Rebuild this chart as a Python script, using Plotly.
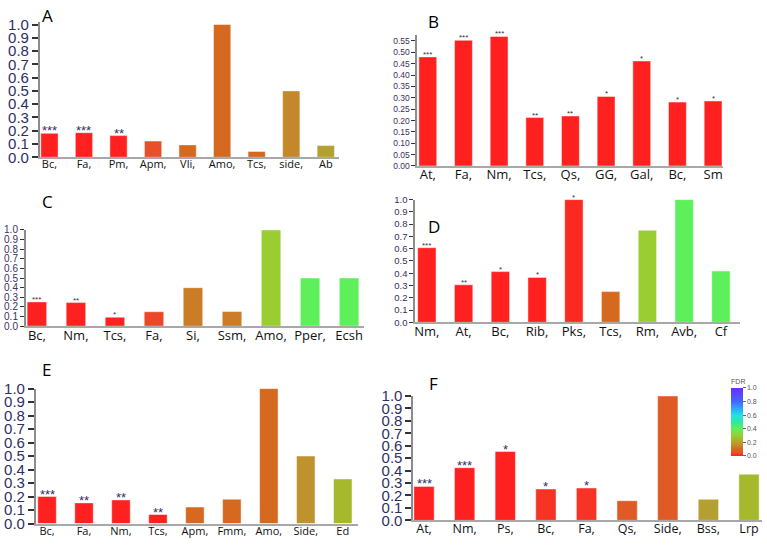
import plotly.graph_objects as go

W, H = 767, 549

# ---------------- data ----------------
a_labels = ["Bc,", "Fa,", "Pm,", "Apm,", "Vli,", "Amo,", "Tcs,", "side,", "Ab"]
a_values = [0.18, 0.185, 0.163, 0.122, 0.093, 1.0, 0.044, 0.5, 0.088]
a_fdr = [0, 0, 0, 0.05, 0.1, 0.1, 0.1, 0.15, 0.2]
a_stars = ["***", "***", "**", "", "", "", "", "", ""]

b_labels = ["At,", "Fa,", "Nm,", "Tcs,", "Qs,", "GG,", "Gal,", "Bc,", "Sm"]
b_values = [0.48, 0.553, 0.57, 0.213, 0.22, 0.306, 0.462, 0.281, 0.286]
b_fdr = [0, 0, 0, 0, 0, 0, 0, 0, 0]
b_stars = ["***", "***", "***", "**", "**", "*", "*", "*", "*"]

c_labels = ["Bc,", "Nm,", "Tcs,", "Fa,", "Si,", "Ssm,", "Amo,", "Pper,", "Ecsh"]
c_values = [0.252, 0.245, 0.093, 0.15, 0.4, 0.152, 1.0, 0.5, 0.5]
c_fdr = [0, 0, 0, 0.04, 0.13, 0.13, 0.3, 0.4, 0.4]
c_stars = ["***", "**", "*", "", "", "", "", "", ""]

d_labels = ["Nm,", "At,", "Bc,", "Rib,", "Pks,", "Tcs,", "Rm,", "Avb,", "Cf"]
d_values = [0.608, 0.305, 0.413, 0.366, 1.0, 0.25, 0.75, 1.0, 0.418]
d_fdr = [0, 0, 0, 0, 0.01, 0.1, 0.3, 0.4, 0.4]
d_stars = ["***", "**", "*", "*", "*", "", "", "", ""]

e_labels = ["Bc,", "Fa,", "Nm,", "Tcs,", "Apm,", "Fmm,", "Amo,", "Side,", "Ed"]
e_values = [0.2, 0.153, 0.175, 0.067, 0.122, 0.18, 1.0, 0.5, 0.33]
e_fdr = [0, 0, 0, 0, 0.1, 0.1, 0.1, 0.17, 0.25]
e_stars = ["***", "**", "**", "**", "", "", "", "", ""]

f_labels = ["At,", "Nm,", "Ps,", "Bc,", "Fa,", "Qs,", "Side,", "Bss,", "Lrp"]
f_values = [0.273, 0.423, 0.553, 0.252, 0.26, 0.158, 1.0, 0.169, 0.371]
f_fdr = [0, 0, 0, 0.02, 0.02, 0.07, 0.07, 0.2, 0.25]
f_stars = ["***", "***", "*", "*", "*", "", "", "", ""]

fdr_ticks = [0.0, 0.2, 0.4, 0.6, 0.8, 1.0]

colorscale = [
    [0.00, "#ff2020"],
    [0.05, "#e8502a"],
    [0.10, "#d4691f"],
    [0.15, "#c4882a"],
    [0.20, "#b4a030"],
    [0.25, "#a6b82c"],
    [0.30, "#9acd32"],
    [0.40, "#5ef05a"],
    [0.50, "#30e8a0"],
    [0.60, "#22e2e6"],
    [0.70, "#2ea4ff"],
    [0.80, "#4466ff"],
    [1.00, "#6a2cff"],
]

# ---------------- geometry (pixels) ----------------
panels = [
    dict(name="A", labels=a_labels, values=a_values, fdr=a_fdr, stars=a_stars,
         x0=39, x1=338, y0=153, y1=16, yref=1.0, top=1.02, xr=[-0.275, 8.37],
         dtick=0.1, fmt=".1f", tfs=15, xfs=11, sfs=13, big=True,
         letter=(47, 7)),
    dict(name="B", labels=b_labels, values=b_values, fdr=b_fdr, stars=b_stars,
         x0=417, x1=723, y0=162, y1=33, yref=0.55, top=0.575, xr=[-0.29, 8.28],
         dtick=0.05, fmt=".2f", tfs=8.5, xfs=13, sfs=8, big=False,
         letter=(433, 13)),
    dict(name="C", labels=c_labels, values=c_values, fdr=c_fdr, stars=c_stars,
         x0=25, x1=363, y0=327.3, y1=228, yref=1.0, top=1.0, xr=[-0.28, 8.37],
         dtick=0.1, fmt=".1f", tfs=10, xfs=13, sfs=8, big=False,
         letter=(47, 199)),
    dict(name="D", labels=d_labels, values=d_values, fdr=d_fdr, stars=d_stars,
         x0=415, x1=740, y0=323.3, y1=196.7, yref=1.0, top=1.0, xr=[-0.31, 8.52],
         dtick=0.1, fmt=".1f", tfs=9.5, xfs=13, sfs=8, big=False,
         letter=(434, 224)),
    dict(name="E", labels=e_labels, values=e_values, fdr=e_fdr, stars=e_stars,
         x0=35, x1=357, y0=531, y1=391.7, yref=1.0, top=1.0, xr=[-0.30, 8.40],
         dtick=0.1, fmt=".1f", tfs=15, xfs=11, sfs=13, big=True,
         letter=(46, 372)),
    dict(name="F", labels=f_labels, values=f_values, fdr=f_fdr, stars=f_stars,
         x0=413, x1=762, y0=527.7, y1=399.3, yref=1.0, top=1.0, xr=[-0.26, 8.32],
         dtick=0.1, fmt=".1f", tfs=15, xfs=12.5, sfs=13, big=True,
         letter=(433, 386)),
]

fig = go.Figure()
annotations = []
layout = {}

for i, p in enumerate(panels):
    k = "" if i == 0 else str(i + 1)
    xa, ya = "x" + k, "y" + k
    scale = (p["y0"] - p["y1"]) / p["yref"]
    ytop_px = p["y0"] - p["top"] * scale
    show = (i == 5)
    fig.add_trace(go.Bar(
        x=p["labels"], y=p["values"], xaxis=xa, yaxis=ya, width=0.5,
        marker=dict(
            color=p["fdr"], colorscale=colorscale, cmin=0, cmax=1,
            line=dict(color="rgba(255,255,255,0.45)", width=1),
            showscale=show,
            colorbar=dict(
                x=731 / W, xanchor="left", xpad=0,
                y=1 - 420 / H, yanchor="middle", ypad=0,
                len=80, lenmode="pixels", thickness=12,
                outlinewidth=0,
                tickvals=fdr_ticks, tickformat=".1f",
                ticks="outside", ticklen=3, tickcolor="#666",
                tickfont=dict(size=7, color="#555", family="Arial"),
                title=dict(text="FDR", side="top",
                           font=dict(size=7, color="#555", family="Arial")),
            ) if show else None,
        ),
        hoverinfo="x+y",
    ))
    layout["xaxis" + k] = dict(
        domain=[p["x0"] / W, p["x1"] / W], anchor=ya, type="category",
        range=p["xr"], showline=True, linecolor="#a8a8a8", linewidth=1.5,
        ticks="", showgrid=False, zeroline=False, ticklabelstandoff=-4,
        tickfont=dict(size=p["xfs"], color="#111", family="Open Sans"),
    )
    layout["yaxis" + k] = dict(
        domain=[1 - p["y0"] / H, 1 - ytop_px / H], anchor=xa,
        range=[0, p["top"]], showline=True, linecolor="#8c8c8c", linewidth=2,
        ticks="outside", ticklen=6 if p["big"] else 4, tickcolor="#333",
        tickwidth=1.5 if p["big"] else 1,
        dtick=p["dtick"], tick0=0, tickformat=p["fmt"],
        showgrid=False, zeroline=False,
        tickfont=dict(size=p["tfs"],
                      color="#2e2e66" if p["big"] else "#3a3060",
                      family="Arial"),
    )
    for lab, v, s in zip(p["labels"], p["values"], p["stars"]):
        if s:
            annotations.append(dict(
                x=lab, y=v, xref=xa, yref=ya, text=s, showarrow=False,
                yanchor="bottom", yshift=-int(p["sfs"] * 0.55),
                font=dict(size=p["sfs"],
                          color="#2e2e66" if p["big"] else "#333",
                          family="Arial"),
            ))
    lx, ly = p["letter"]
    annotations.append(dict(
        x=lx / W, y=1 - ly / H, xref="paper", yref="paper", text=p["name"],
        showarrow=False, xanchor="center", yanchor="middle",
        font=dict(size=17, color="#000", family="Open Sans"),
    ))

fig.update_layout(
    width=W, height=H, margin=dict(l=0, r=0, t=0, b=0),
    paper_bgcolor="white", plot_bgcolor="white", showlegend=False,
    annotations=annotations, **layout,
)

fig.write_html("out.html")
